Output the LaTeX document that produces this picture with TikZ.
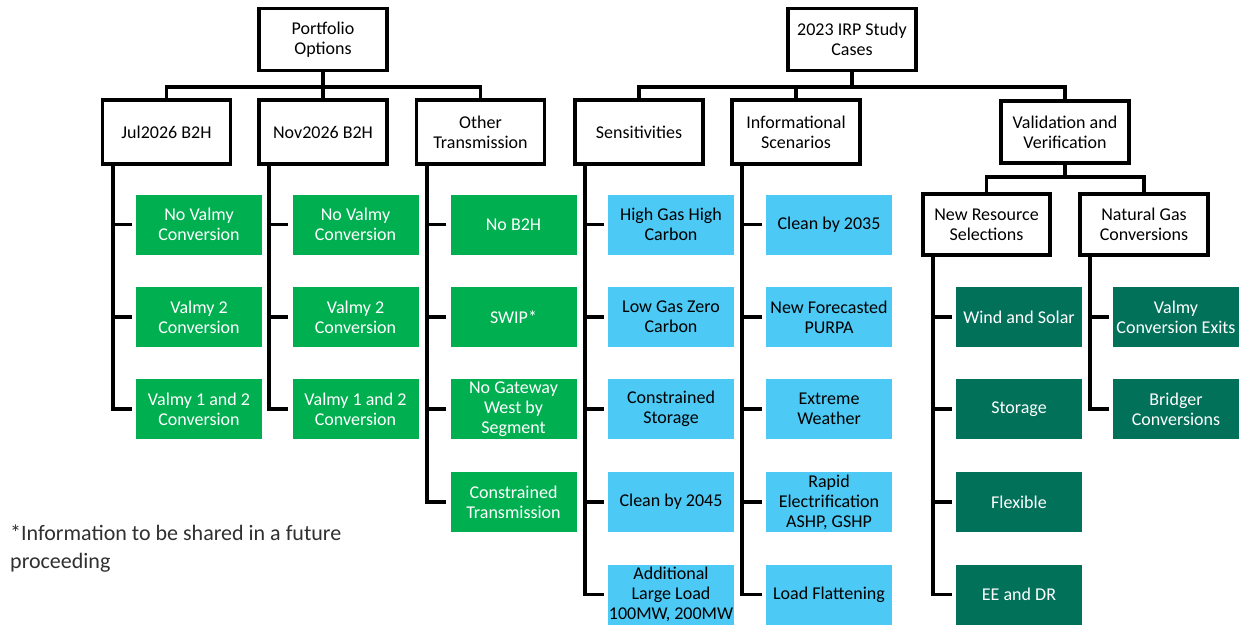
\documentclass[tikz,border=0pt]{standalone}
\usepackage{fontspec}
\setmainfont{Carlito}
\definecolor{pgreen}{HTML}{00B050}
\definecolor{pblue}{HTML}{4CC9F5}
\definecolor{pdark}{HTML}{02715A}
\definecolor{ftext}{HTML}{303030}
\tikzset{
  base/.style={inner sep=0pt, align=center, font=\fontsize{18}{20}\selectfont},
  hdr/.style={base, draw=black, line width=3.6pt, fill=white, minimum width=128pt, minimum height=62pt},
  leaf/.style={base, minimum width=126pt, minimum height=60pt},
  gbox/.style={leaf, fill=pgreen, text=white},
  bbox/.style={leaf, fill=pblue, text=black},
  dbox/.style={leaf, fill=pdark, text=white},
  conn/.style={line width=3.6pt, draw=black},
  branch/.style={conn, shorten >=4pt}
}
\begin{document}
\begin{tikzpicture}[x=1pt,y=-1pt]
\useasboundingbox[fill=white] (0,0) rectangle (1247,627);
% headers
\node[hdr] (po) at (323,39.5) {Portfolio\\Options};
\node[hdr] (irp) at (852,39.5) {2023 IRP Study\\Cases};
\node[hdr, minimum height=64pt] (jul) at (166.5,132) {Jul2026 B2H};
\node[hdr, minimum height=64pt] (nov) at (323,132) {Nov2026 B2H};
\node[hdr, minimum height=64pt] (oth) at (480.5,132) {Other\\Transmission};
\node[hdr, minimum height=64pt] (sen) at (639,132) {Sensitivities};
\node[hdr, minimum height=64pt] (inf) at (796,132) {Informational\\Scenarios};
\node[hdr] (val) at (1065,132) {Validation and\\Verification};
\node[hdr, minimum width=127pt, minimum height=61pt] (nrs) at (986.5,224.5) {New Resource\\Selections};
\node[hdr, minimum width=128pt, minimum height=61pt] (ngc) at (1144,224.5) {Natural Gas\\Conversions};
% buses
\coordinate (pbus) at (323,87);
\coordinate (ibus) at (852,87);
\coordinate (vbus) at (1065,177);
\draw[conn] (jul.north) |- (pbus) -| (oth.north);
\draw[conn] (po.south) -- (nov.north);
\draw[conn] (sen.north) |- (ibus) -| (val.north);
\draw[conn] (irp.south) -- (ibus);
\draw[conn] (inf.north) -- (inf.north |- ibus);
\draw[conn] (nrs.north) |- (vbus) -| (ngc.north);
\draw[conn] (val.south) -- (vbus);
% Jul children
\node[gbox] (j1) at (199,224.5) {No Valmy\\Conversion};
\node[gbox] (j2) at (199,317) {Valmy 2\\Conversion};
\node[gbox] (j3) at (199,409) {Valmy 1 and 2\\Conversion};
% Nov children
\node[gbox] (n1) at (355.5,224.5) {No Valmy\\Conversion};
\node[gbox] (n2) at (355.5,317) {Valmy 2\\Conversion};
\node[gbox] (n3) at (355.5,409) {Valmy 1 and 2\\Conversion};
% Other children
\node[gbox] (o1) at (513.5,224.5) {No B2H};
\node[gbox] (o2) at (513.5,317) {SWIP*};
\node[gbox] (o3) at (513.5,409) {No Gateway\\West by\\Segment};
\node[gbox] (o4) at (513.5,502) {Constrained\\Transmission};
% Sensitivities
\node[bbox] (s1) at (671,224.5) {High Gas High\\Carbon};
\node[bbox] (s2) at (671,317) {Low Gas Zero\\Carbon};
\node[bbox] (s3) at (671,409) {Constrained\\Storage};
\node[bbox] (s4) at (671,502) {Clean by 2045};
\node[bbox] (s5) at (671,594.5) {Additional\\Large Load\\100MW, 200MW};
% Informational
\node[bbox] (i1) at (829,224.5) {Clean by 2035};
\node[bbox] (i2) at (829,317) {New Forecasted\\PURPA};
\node[bbox] (i3) at (829,409) {Extreme\\Weather};
\node[bbox] (i4) at (829,502) {Rapid\\Electrification\\ASHP, GSHP};
\node[bbox] (i5) at (829,594.5) {Load Flattening};
% New Resource Selections
\node[dbox] (r1) at (1019,317) {Wind and Solar};
\node[dbox] (r2) at (1019,409) {Storage};
\node[dbox] (r3) at (1019,502) {Flexible};
\node[dbox] (r4) at (1019,594.5) {EE and DR};
% Natural Gas Conversions
\node[dbox] (g1) at (1176,317) {Valmy\\Conversion Exits};
\node[dbox] (g2) at (1176,409) {Bridger\\Conversions};
% branches
\foreach \p/\list in {jul/{j1,j2,j3}, nov/{n1,n2,n3}, oth/{o1,o2,o3,o4}, sen/{s1,s2,s3,s4,s5}, inf/{i1,i2,i3,i4,i5}, nrs/{r1,r2,r3,r4}, ngc/{g1,g2}}{
  \foreach \c in \list {
    \draw[branch] ([xshift=12pt]\p.south west) |- (\c.west);
  }
}
% footnote
\node[anchor=base west, inner sep=0pt, align=left, text=ftext, font=\fontsize{22}{28}\selectfont] (note) at (10,568) {*Information to be shared in a future\\proceeding};
\end{tikzpicture}
\end{document}
